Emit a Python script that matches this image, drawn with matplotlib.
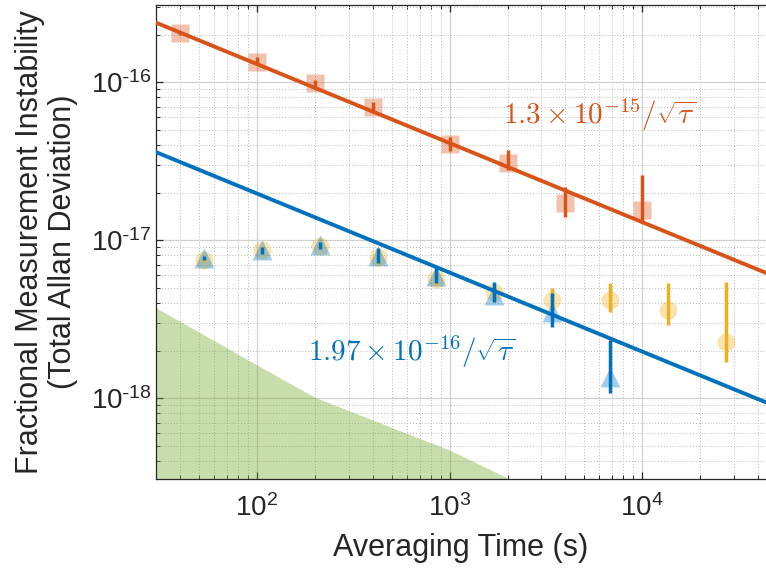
import numpy as np
import matplotlib
matplotlib.use('Agg')
import matplotlib.pyplot as plt
from matplotlib.ticker import LogLocator, NullFormatter, FuncFormatter

# --- data --------------------------------------------------------------
# Red (squares): tau, adev, error bar ends
tau_r = [40, 100, 200, 400, 1000, 2000, 4000, 10000]
adev_r = [2.04e-16, 1.34e-16, 9.85e-17, 6.95e-17, 4.05e-17, 3.07e-17, 1.71e-17, 1.55e-17]
hi_r = [2.10e-16, 1.44e-16, 1.03e-16, 7.47e-17, 4.49e-17, 3.71e-17, 2.16e-17, 2.57e-17]
lo_r = [1.98e-16, 1.28e-16, 9.03e-17, 6.46e-17, 3.66e-17, 2.77e-17, 1.40e-17, 1.28e-17]

# Blue (triangles)
tau_b = [53.3, 106.7, 213.3, 426.7, 853.3, 1706.7, 3413.3, 6826.7]
adev_b = [7.7e-18, 8.6e-18, 9.3e-18, 7.9e-18, 5.9e-18, 4.5e-18, 3.5e-18, 1.36e-18]
hi_b = [7.92e-18, 9.03e-18, 9.71e-18, 8.9e-18, 6.65e-18, 5.4e-18, 4.62e-18, 2.33e-18]
lo_b = [7.47e-18, 8.15e-18, 8.8e-18, 7.15e-18, 5.35e-18, 4.05e-18, 2.81e-18, 1.08e-18]

# Yellow (circles)
tau_y = [53.3, 106.7, 213.3, 426.7, 853.3, 1706.7, 3413.3, 6826.7, 13653.3, 27306.7]
adev_y = [7.5e-18, 8.7e-18, 9.2e-18, 7.8e-18, 5.7e-18, 4.7e-18, 4.17e-18, 4.17e-18, 3.6e-18, 2.26e-18]
hi_y = [7.7e-18, 9.0e-18, 9.6e-18, 8.6e-18, 6.4e-18, 5.1e-18, 4.97e-18, 5.35e-18, 5.35e-18, 5.4e-18]
lo_y = [7.3e-18, 8.3e-18, 8.8e-18, 7.1e-18, 5.2e-18, 4.3e-18, 3.5e-18, 3.5e-18, 2.9e-18, 1.69e-18]

# Green shaded limit
tau_g = [30, 100, 200, 1000, 2000, 2600]
lim_g = [3.72e-18, 1.62e-18, 1.01e-18, 4.69e-19, 3.12e-19, 2.6e-19]

# fit coefficients (sigma = c / sqrt(tau))
c_red = 1.3e-15
c_blue = 1.97e-16

RED = '#D95319'
BLUE = '#0072BD'
YELLOW = '#EDB120'
GREEN = '#77AC30'
AXC = '#262626'

plt.rcParams['font.family'] = ['Liberation Sans', 'DejaVu Sans']
plt.rcParams['mathtext.fontset'] = 'cm'

fig = plt.figure(figsize=(7.66, 5.69), dpi=100)
ax = fig.add_axes([0.2037, 0.158, 0.7963, 0.833])
ax.set_xscale('log')
ax.set_yscale('log')
ax.set_xlim(29.9, 4.4e4)
ax.set_ylim(3.07e-19, 3.07e-16)

ax.fill_between(tau_g, lim_g, 1e-20, color=GREEN, alpha=0.4, linewidth=0, zorder=1)


def yerr(v, hi, lo):
    v = np.array(v)
    return [v - np.array(lo), np.array(hi) - v]


ax.plot(tau_r, adev_r, 's', ms=13, color=RED, alpha=0.35, mec='none', zorder=3)
ax.plot(tau_y, adev_y, 'o', ms=13, color=YELLOW, alpha=0.35, mec='none', zorder=3)
ax.plot(tau_b, adev_b, '^', ms=15, color=BLUE, alpha=0.35, mec='none', zorder=3)

ax.errorbar(tau_r, adev_r, yerr=yerr(adev_r, hi_r, lo_r), fmt='none',
            ecolor=RED, elinewidth=2.5, capsize=0, zorder=4)
ax.errorbar(tau_y, adev_y, yerr=yerr(adev_y, hi_y, lo_y), fmt='none',
            ecolor=YELLOW, elinewidth=2.5, capsize=0, zorder=4)
ax.errorbar(tau_b, adev_b, yerr=yerr(adev_b, hi_b, lo_b), fmt='none',
            ecolor=BLUE, elinewidth=2.5, capsize=0, zorder=5)

t_fit = np.array(ax.get_xlim())
ax.plot(t_fit, c_red / np.sqrt(t_fit), color=RED, lw=2.8, zorder=6)
ax.plot(t_fit, c_blue / np.sqrt(t_fit), color=BLUE, lw=2.8, zorder=6)

ax.text(6000, 6.2e-17, r'$1.3\times10^{-15}/\sqrt{\tau}$', color=RED,
        fontsize=21, ha='center', va='center', zorder=7)
ax.text(640, 1.96e-18, r'$1.97\times10^{-16}/\sqrt{\tau}$', color=BLUE,
        fontsize=21, ha='center', va='center', zorder=7)


def pow10(v, pos):
    e = int(round(np.log10(v)))
    s = str(e).replace('-', r'\text{-}')
    return r'$\mathdefault{10^{%s}}$' % s


# MATLAB-like axes
for axis in (ax.xaxis, ax.yaxis):
    axis.set_major_locator(LogLocator(base=10, numticks=20))
    axis.set_major_formatter(FuncFormatter(pow10))
    axis.set_minor_locator(LogLocator(base=10, subs=np.arange(2, 10), numticks=50))
    axis.set_minor_formatter(NullFormatter())
ax.grid(True, which='major', color='#d0d0d0', lw=0.9, zorder=0)
ax.grid(True, which='minor', color='#b8b8b8', lw=0.7, ls=(0, (1, 2)), zorder=0)
ax.set_axisbelow(True)
ax.tick_params(which='both', direction='in', top=True, right=False, colors=AXC,
               labelsize=20)
ax.tick_params(which='major', length=5, width=0.9)
ax.tick_params(which='minor', length=3, width=0.7)
ax.tick_params(axis='x', pad=11)
for s in ('left', 'bottom', 'top'):
    ax.spines[s].set_color(AXC)
    ax.spines[s].set_linewidth(0.9)
ax.spines['right'].set_visible(False)

ax.set_xlabel('Averaging Time (s)', fontsize=22, color=AXC, labelpad=8)
ax.set_ylabel('Fractional Measurement Instability\n(Total Allan Deviation)',
              fontsize=22, color=AXC, linespacing=1.15)
ax.yaxis.set_label_coords(-0.128, 0.5)

fig.savefig('out.png', dpi=100)
